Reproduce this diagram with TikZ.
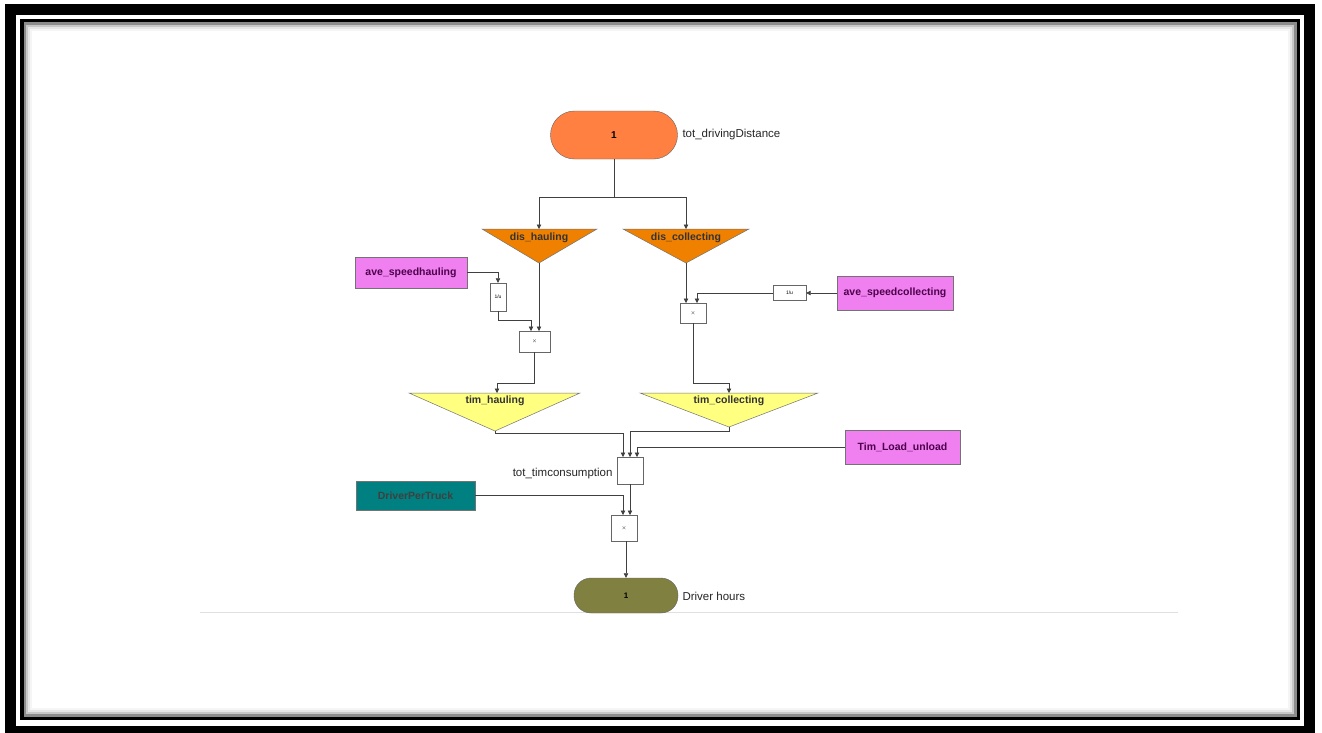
\documentclass[tikz,border=0pt]{standalone}
\usepackage{fontspec}
\setmainfont{Liberation Sans}
\usetikzlibrary{arrows.meta}
\definecolor{termorange}{RGB}{255,128,64}
\definecolor{triorange}{RGB}{240,128,0}
\definecolor{violetbox}{RGB}{240,128,240}
\definecolor{tealbox}{RGB}{0,128,128}
\definecolor{yellowtri}{RGB}{255,255,128}
\definecolor{olivebox}{RGB}{128,128,64}
\tikzset{
  lbl/.style={font=\fontsize{10.5}{13}\selectfont\bfseries, text=black!80},
  outlbl/.style={font=\fontsize{11.5}{13}\selectfont, text=black!85},
  term/.style={draw=black!60, rounded corners=17pt, inner sep=0pt},
  srcbox/.style={draw=black!55, inner sep=0pt, fill=violetbox},
  opbox/.style={draw=black!60, fill=white, inner sep=0pt, font=\fontsize{5}{6}\selectfont},
  tri/.style={draw=black!55, line width=0.5pt},
  conn/.style={draw=black!75, line width=0.6pt},
  arr/.style={conn, -{Triangle[length=4.5pt,width=4.5pt]}},
}
\begin{document}
\begin{tikzpicture}[x=1pt,y=-1pt]
\useasboundingbox (0,0) rectangle (1322,732);
\fill[white] (0,0) rectangle (1322,732);
% frame
\draw[line width=11pt] (10.5,9.5) rectangle (1309.5,731.5);
\foreach \o/\g in {9/4,7/10,5/22,3/45}{
  \draw[black!\g, line width=2.2pt] (22+\o,20.5+\o) rectangle (1298.5-\o,718.5-\o);
}
\draw[line width=3.5pt] (22,20.5) rectangle (1298.5,718.5);
% baseline gray line
\draw[black!12, line width=1pt] (200,612) -- (1178,612);

% top terminator
\node[term, fill=termorange, minimum width=127pt, minimum height=48pt, rounded corners=24pt, font=\fontsize{10}{12}\selectfont\bfseries] (in1) at (614,135) {1};
\node[outlbl, anchor=west] (in1lbl) at (679,135) {tot\_drivingDistance};
\coordinate (j1) at (614,197);

% dis triangles
\fill[triorange] (482,229) -- (597,229) -- (539,263) -- cycle;
\draw[tri] (482,229) -- (597,229) -- (539,263) -- cycle;
\coordinate (dishT) at (539,229);
\coordinate (dishA) at (539,263);
\node[lbl] (dish) at (539,238) {dis\_hauling};

\fill[triorange] (623,229) -- (749,229) -- (686,263) -- cycle;
\draw[tri] (623,229) -- (749,229) -- (686,263) -- cycle;
\coordinate (discT) at (686,229);
\coordinate (discA) at (686,263);
\node[lbl] (disc) at (686,238) {dis\_collecting};

\draw[conn] (in1.south) -- (j1);
\draw[arr] (j1) -| (dishT);
\draw[arr] (j1) -| (discT);

% hauling speed branch
\node[srcbox, minimum width=112pt, minimum height=31pt, lbl, text=violet!60!black] (avh) at (411,272.5) {ave\_speedhauling};
\node[opbox, minimum width=16pt, minimum height=28pt] (invh) at (498,297) {1/u};
\node[opbox, minimum width=31pt, minimum height=21pt] (mulh) at (534.5,341.5) {$\times$};
\draw[arr] (avh.east) -| (invh.north);
\draw[arr] (invh.south) |- (531,320) -- (531,331);
\draw[arr] (dishA) -- (539,331);

% collecting speed branch
\node[srcbox, minimum width=116pt, minimum height=34pt, lbl, text=violet!60!black] (avc) at (895,293) {ave\_speedcollecting};
\node[opbox, minimum width=33pt, minimum height=15pt] (invc) at (789.5,293) {1/u};
\node[opbox, minimum width=26pt, minimum height=20pt] (mulc) at (693,313) {$\times$};
\draw[arr] (avc.west) -- (invc.east);
\draw[arr] (invc.west) -| (697,303);
\draw[arr] (discA) -- (686,303);

% tim triangles
\fill[yellowtri] (409,393) -- (580,393) -- (495,431) -- cycle;
\draw[tri] (409,393) -- (580,393) -- (495,431) -- cycle;
\coordinate (timhT) at (497,393);
\coordinate (timhA) at (495,431);
\node[lbl] (timh) at (495,401) {tim\_hauling};

\fill[yellowtri] (640,393) -- (818,393) -- (729,427) -- cycle;
\draw[tri] (640,393) -- (818,393) -- (729,427) -- cycle;
\coordinate (timcT) at (729,393);
\coordinate (timcA) at (729,427);
\node[lbl] (timc) at (729,401) {tim\_collecting};

\draw[arr] (mulh.south) -- (534.5,383) -| (timhT);
\draw[arr] (mulc.south) -- (693,383) -| (timcT);

% sum
\node[opbox, minimum width=26pt, minimum height=27pt] (sum) at (630,470.5) {};
\node[outlbl, anchor=east] (sumlbl) at (616,474) {tot\_timconsumption};
\node[srcbox, minimum width=115pt, minimum height=34pt, lbl, text=violet!60!black] (tlu) at (902.5,447) {Tim\_Load\_unload};
\draw[arr] (timhA) -- (495,433) -| (623,457);
\draw[arr] (timcA) -- (729,431) -| (630,457);
\draw[arr] (tlu.west) -| (637,457);

% driver per truck
\node[draw=black!55, fill=tealbox, inner sep=0pt, minimum width=119pt, minimum height=29pt, lbl, text=black!75] (dpt) at (415.5,495.5) {DriverPerTruck};
\node[opbox, minimum width=26pt, minimum height=26pt] (mul2) at (624,528) {$\times$};
\draw[arr] (dpt.east) -| (623,515);
\draw[arr] (sum.south -| 630,0) -- (630,515);

% output terminator
\node[term, fill=olivebox, minimum width=104pt, minimum height=35pt, font=\fontsize{8}{10}\selectfont\bfseries] (out1) at (626,595.5) {1};
\node[outlbl, anchor=west] (outlbl) at (679,596) {Driver hours};
\draw[arr] (mul2.south -| out1.north) -- (out1.north);
\end{tikzpicture}
\end{document}
